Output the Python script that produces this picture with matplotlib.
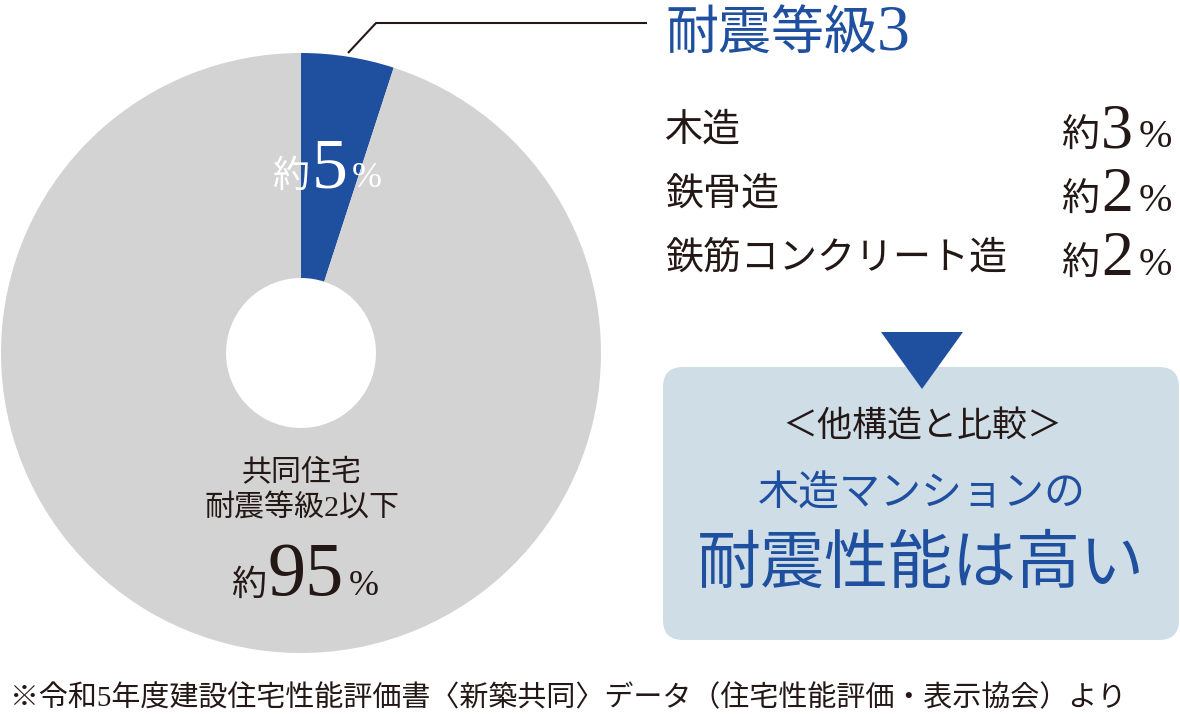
import matplotlib
matplotlib.use("Agg")
import matplotlib.pyplot as plt
from matplotlib.patches import FancyBboxPatch, Polygon

# data
shares = [5, 95]  # 耐震等級3, 耐震等級2以下
structure_names = ["木造", "鉄骨造", "鉄筋コンクリート造"]
structure_pcts = [3, 2, 2]
title = "耐震等級3"
low_label = ["共同住宅", "耐震等級2以下"]
box_head = "＜他構造と比較＞"
box_line1 = "木造マンションの"
box_line2 = "耐震性能は高い"
note = "※令和5年度建設住宅性能評価書〈新築共同〉データ（住宅性能評価・表示協会）より"

BLUE = "#1f4f9f"
GREY = "#d3d3d3"
DARK = "#231815"
BOX = "#cfdde7"
JP = ["Noto Sans CJK JP"]
SJP = ["Liberation Serif", "Noto Sans CJK JP"]

W, H = 1180, 714
fig = plt.figure(figsize=(W / 100, H / 100), dpi=100)
ax = fig.add_axes([0, 0, 1, 1])


def pt(px):
    return px * 0.72


def Y(y):
    return H - y


def put_runs(x, y, runs, ha="center", color=DARK):
    # runs of (text, px size, family, gap after) laid side by side on one baseline
    r = fig.canvas.get_renderer()
    arts = [ax.text(0, Y(y), s, fontsize=pt(sz), family=fam, color=color,
                    va="baseline", ha="left") for s, sz, fam, g in runs]
    widths = [a.get_window_extent(r).width + g for a, (s, sz, fam, g) in zip(arts, runs)]
    start = {"center": x - sum(widths) / 2, "right": x - sum(widths), "left": x}[ha]
    for a, w in zip(arts, widths):
        a.set_x(start)
        start += w


# donut
ax.pie(shares, colors=[BLUE, GREY], startangle=90, counterclock=False,
       center=(301, Y(353)), radius=300,
       wedgeprops=dict(width=225, linewidth=0))

put_runs(327, 187, [("約", 37, JP, 2), (str(shares[0]), 72, SJP, 4), ("%", 36, SJP, 0)],
         color="white")
ax.text(302, Y(472), low_label[0], fontsize=pt(30), family=JP, color=DARK,
        ha="center", va="center")
ax.text(302, Y(508), low_label[1], fontsize=pt(30), family=SJP, color=DARK,
        ha="center", va="center")
put_runs(305, 595, [("約", 35, JP, 2), (str(shares[1]), 76, SJP, 5), ("%", 36, SJP, 0)])

# leader + title
ax.plot([348, 376, 647], [Y(53), Y(23), Y(23)], color=DARK, lw=1.5,
        solid_capstyle="butt")
put_runs(665, 50, [(title[:-1], 53, JP, 0), (title[-1], 66, SJP, 0)], ha="left",
         color=BLUE)

# structures
for i, (name, p) in enumerate(zip(structure_names, structure_pcts)):
    base = 147 + 64 * i
    ax.text(665, Y(base - 17), name, fontsize=pt(38), family=JP, color=DARK,
            ha="left", va="center")
    put_runs(1172, base, [("約", 38, JP, 2), (str(p), 64, SJP, 6), ("%", 40, SJP, 0)],
             ha="right")

# arrow + box
ax.add_patch(FancyBboxPatch((663, Y(640)), 1179 - 663, 640 - 367,
                            boxstyle="round,pad=0,rounding_size=20",
                            fc=BOX, ec="none"))
ax.add_patch(Polygon([(881, Y(332)), (963, Y(332)), (922, Y(389))],
                     closed=True, fc=BLUE, ec="none"))
ax.text(922, Y(427), box_head, fontsize=pt(35), family=JP, color=DARK,
        ha="center", va="center")
ax.text(922, Y(494), box_line1, fontsize=pt(41), family=JP, color=BLUE,
        ha="center", va="center")
ax.text(921, Y(565), box_line2, fontsize=pt(64), family=JP, color=BLUE,
        ha="center", va="center")

ax.text(10, Y(698), note, fontsize=pt(29), family=SJP, color=DARK,
        ha="left", va="center")

ax.set_xlim(0, W)
ax.set_ylim(0, H)
ax.set_aspect("auto")
ax.axis("off")
fig.savefig("out.png", dpi=100)
